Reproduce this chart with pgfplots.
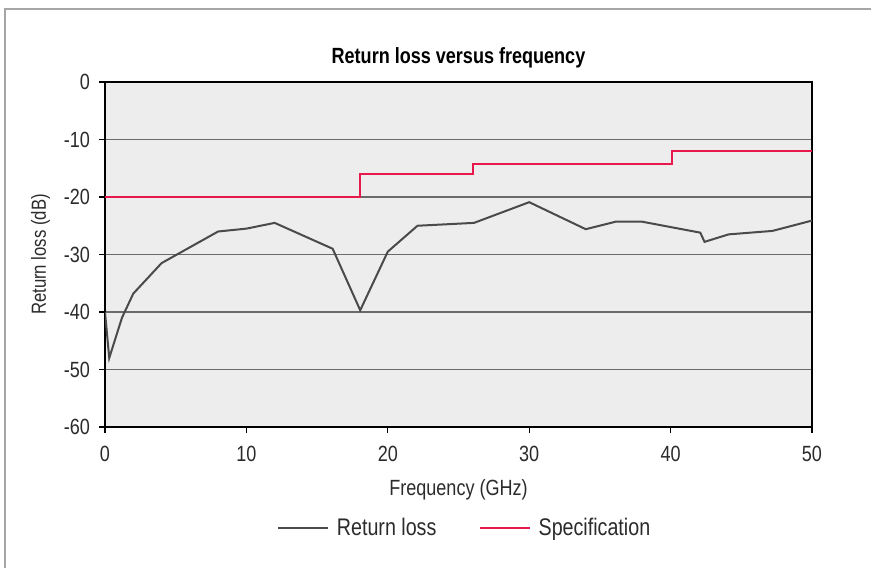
\documentclass[border=0pt]{standalone}
\usepackage{pgfplots}
\pgfplotsset{compat=1.18}
\usepackage{fontspec}
\setmainfont{Liberation Sans}[FakeStretch=0.82]
\definecolor{txt}{HTML}{2B2B2B}
\definecolor{bg}{HTML}{EDEDED}
\definecolor{gridc}{HTML}{6A6A6A}
\definecolor{rl}{HTML}{4A4A4A}
\definecolor{spec}{HTML}{E8184C}
\begin{document}
\begin{tikzpicture}[x=1pt,y=1pt]
\useasboundingbox (0,0) rectangle (435.5,283.5);
\draw[line width=1pt, color=gray!70] (2.5,-2) -- (2.5,279) -- (440,279);
\begin{axis}[
  at={(52.5pt,70pt)}, anchor=south west,
  scale only axis, width=353.5pt, height=172.5pt,
  xmin=0, xmax=50, ymin=-60, ymax=0,
  xtick={0,10,...,50}, ytick={-60,-50,...,0},
  /pgf/number format/assume math mode=true,
  tick label style={font=\fontsize{11}{13}\selectfont, color=txt},
  label style={font=\fontsize{11}{13}\selectfont, color=txt},
  title style={font=\fontsize{11}{13}\selectfont\bfseries, color=black, at={(0.5,1)}, anchor=base, yshift=3.5pt},
  title={Return loss versus frequency},
  xlabel={Frequency (GHz)}, ylabel={Return loss (dB)},
  xlabel style={at={(0.5,0)}, anchor=base, yshift=-34pt},
  ylabel style={font=\fontsize{10.2}{12}\selectfont, at={(0,0.5)}, anchor=base, yshift=29.5pt},
  tick align=outside, xtick pos=bottom, ytick pos=left,
  major tick length=3pt,
  every tick/.style={black, line width=0.6pt},
  axis line style={black, line width=1pt},
  axis background/.style={fill=bg},
  ymajorgrids, grid style={gridc, line width=0.8pt},
  xticklabel style={yshift=-3pt},
  yticklabel style={xshift=-1pt},
  legend style={at={(0.51,-0.293)}, anchor=center, draw=none, fill=none,
    font=\fontsize{12}{14}\selectfont, text=txt, legend columns=2,
    /tikz/every even column/.append style={column sep=19pt},
    /tikz/every odd column/.append style={column sep=2pt}},
  legend image code/.code={\draw[#1] (0pt,0pt) -- (25pt,0pt);},
  legend cell align=left,
]
\addplot[rl, line width=1pt] coordinates {
(0,-40) (0.3,-48) (1.2,-41) (2,-36.8) (4,-31.5) (8,-26) (10,-25.5) (12,-24.5)
(16.1,-29) (18.05,-39.7) (20,-29.5) (22.1,-25) (26.1,-24.5) (30,-20.9)
(34,-25.6) (36.1,-24.3) (38,-24.3) (42.1,-26.2) (42.4,-27.8) (44.1,-26.5)
(47.2,-25.9) (50,-24.1)
};
\addlegendentry{Return loss}
\addplot[spec, line width=1.1pt] coordinates {
(0,-20) (18.05,-20) (18.05,-16) (26.05,-16) (26.05,-14.3) (40.1,-14.3) (40.1,-12) (50,-12)
};
\addlegendentry{Specification}
\end{axis}
\end{tikzpicture}
\end{document}
